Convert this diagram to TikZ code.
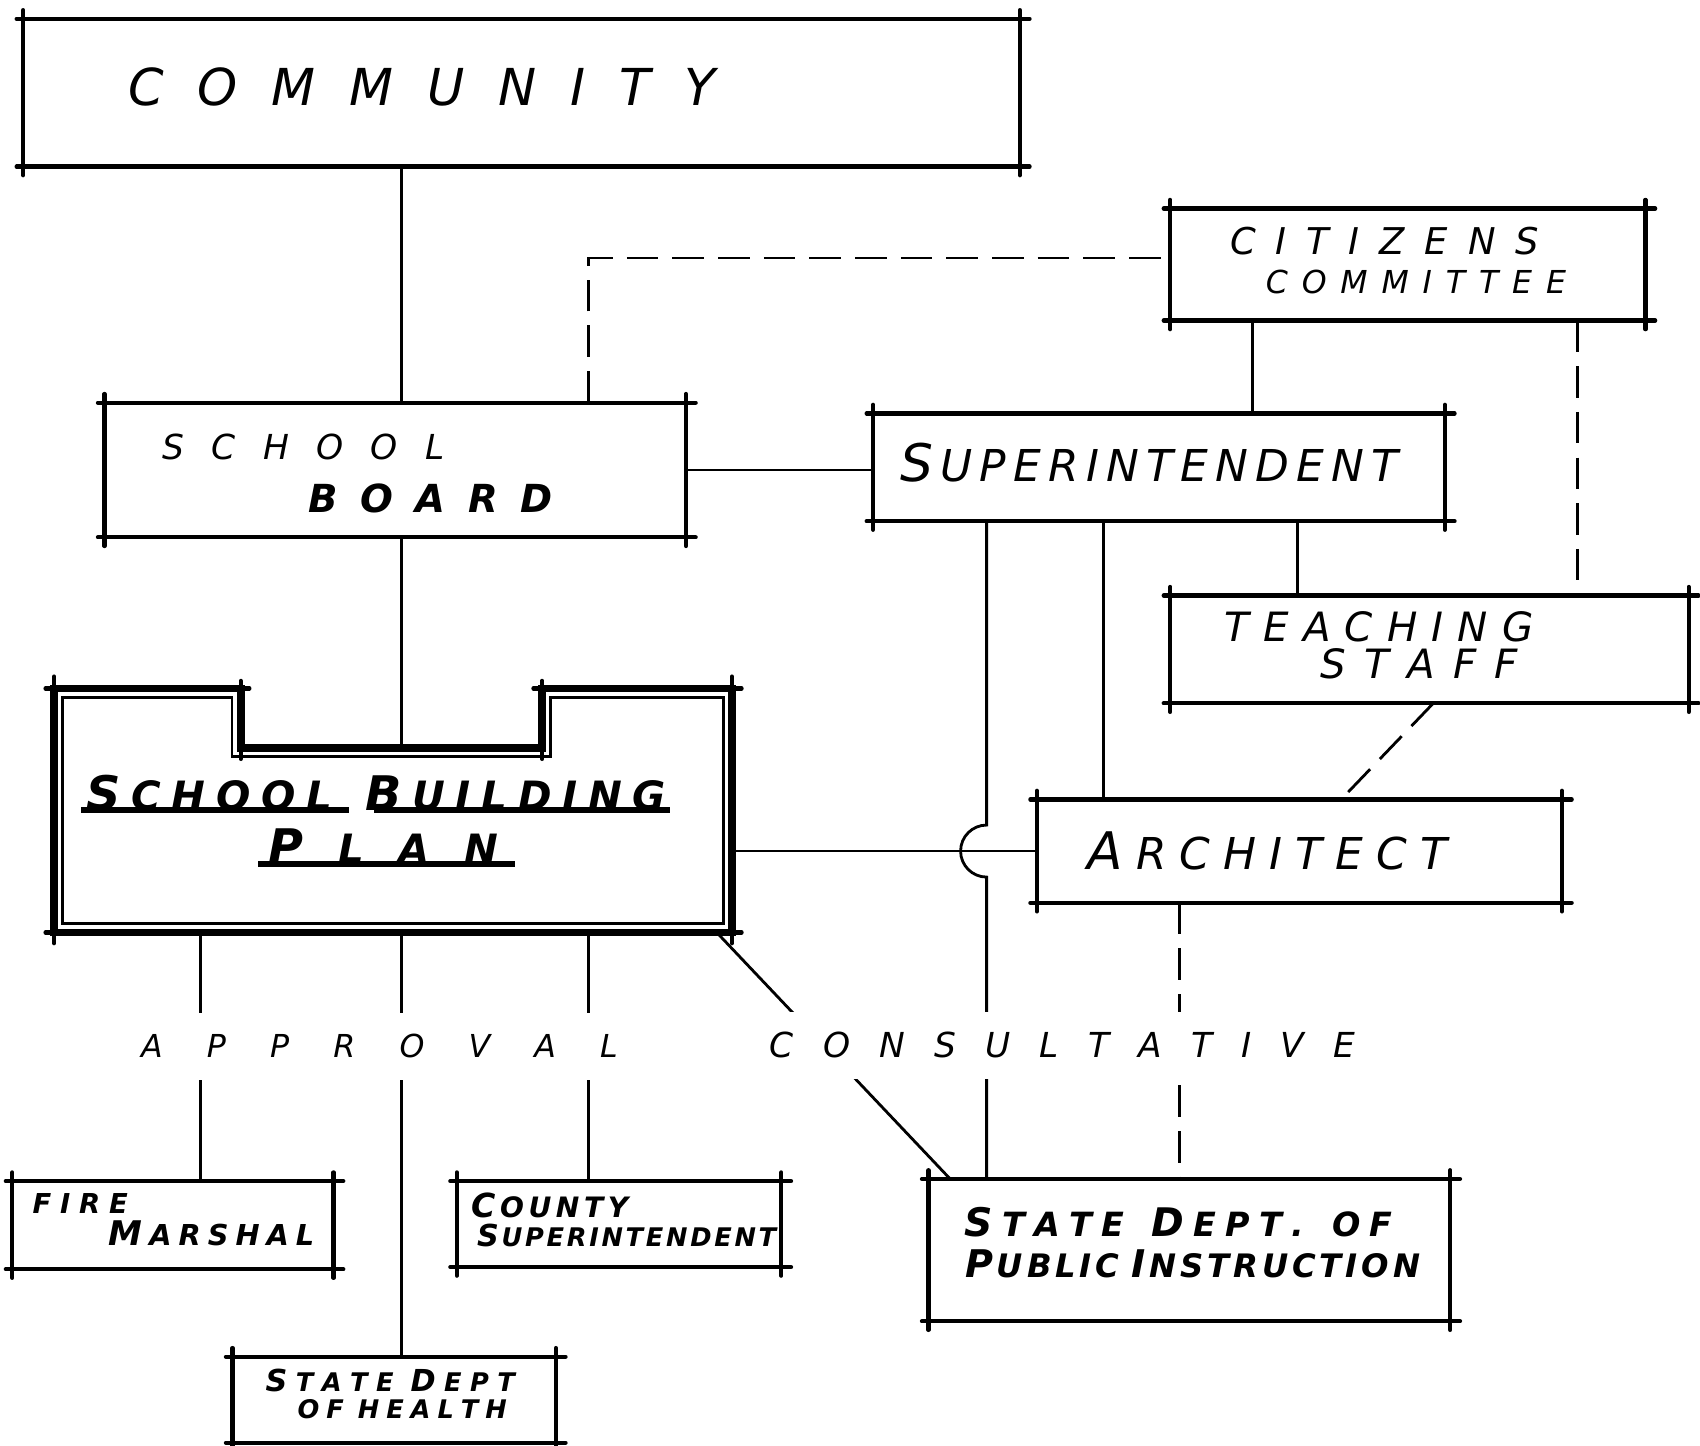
\documentclass[tikz,border=0pt]{standalone}
\usepackage{fontspec}
\usepackage{graphicx}
\usetikzlibrary{fit}
\newfontfamily\hand{DejaVu Sans}
\newdimen\ppx \ppx=0.30848pt
\makeatletter
\def\sp@end{}
\def\sp@endm{\sp@end}
\def\sp@barm{|}
\newcommand\spl[1]{\sp@a#1\sp@end}
\def\sp@a#1{#1\sp@b}
\def\sp@b#1{\def\sp@t{#1}%
  \ifx\sp@t\sp@endm \let\sp@next\relax
  \else \ifx\sp@t\sp@barm\hfil\else\hfil#1\fi \let\sp@next\sp@b \fi
  \sp@next}
\makeatother
\newcommand\lbl[3]{\makebox[#1\ppx][s]{\fontsize{#2pt}{#2pt}\selectfont\spl{#3}}}
\newcommand\B[1]{\scalebox{1.18}{#1}}
\newcommand\drafted[1]{%
  \draw[boxline] ([xshift=-6\ppx]#1.north west) -- ([xshift=9\ppx]#1.north east);
  \draw[boxline] ([xshift=-6\ppx]#1.south west) -- ([xshift=9\ppx]#1.south east);
  \draw[boxline] ([yshift=8\ppx]#1.north west) -- ([yshift=-8\ppx]#1.south west);
  \draw[boxline] ([yshift=8\ppx]#1.north east) -- ([yshift=-8\ppx]#1.south east);}
\tikzset{
  boxline/.style={line width=1.2pt, line cap=round},
  conn/.style={line width=0.8pt},
  dashconn/.style={line width=0.8pt, dash pattern=on 9pt off 4pt},
  boxnode/.style={inner sep=0pt, draw=none, rectangle},
  txt/.style={inner sep=0pt, font=\hand\itshape},
  btxt/.style={inner sep=0pt, font=\hand\bfseries\itshape},
  mask/.style={fill=white, inner xsep=8\ppx, inner ysep=0pt, font=\hand\itshape},
}
\begin{document}
\begin{tikzpicture}[x=0.010842cm, y=-0.010842cm]
\useasboundingbox (0,0) rectangle (1568,1333);

% ---------- boxes ----------
\node[boxnode, fit={(22,18) (940,153)}] (comm) {};
\node[boxnode, fit={(97,372) (632,495)}] (sb) {};
\node[boxnode, fit={(1080,193) (1517,295)}] (cc) {};
\node[boxnode, fit={(806,382) (1332,480)}] (sup) {};
\node[boxnode, fit={(1080,550) (1557,648)}] (ts) {};
\node[boxnode, fit={(957,738) (1440,832)}] (arch) {};
\node[boxnode, fit={(12,1090) (307,1170)}] (fm) {};
\node[boxnode, fit={(422,1090) (720,1168)}] (cs) {};
\node[boxnode, fit={(215,1252) (512,1330)}] (sdh) {};
\node[boxnode, fit={(857,1088) (1337,1218)}] (sdpi) {};
\node[boxnode, fit={(50,635) (675,860)}] (sbp) {};
\coordinate (notch) at (370,690);

\drafted{comm}\drafted{sb}\drafted{cc}\drafted{sup}\drafted{ts}
\drafted{arch}\drafted{fm}\drafted{cs}\drafted{sdh}\drafted{sdpi}

% school building plan outline (double line with notch)
\draw[line width=2.2pt, line join=miter] (50,635) -- (222,635) -- (222,690) -- (500,690) -- (500,635) -- (675,635) -- (675,860) -- (50,860) -- cycle;
\draw[line width=0.8pt] (58,643) -- (214,643) -- (214,698) -- (508,698) -- (508,643) -- (667,643) -- (667,852) -- (58,852) -- cycle;
\draw[boxline] (50,624) -- (50,870) (42,860) -- (684,860) (675,624) -- (675,870)
  (42,635) -- (230,635) (492,635) -- (684,635) (222,628) -- (222,700) (500,628) -- (500,700);

% ---------- helper coordinates ----------
\coordinate (xa) at (370,0);
\coordinate (xb) at (543,0);
\coordinate (dk) at (543,238);
\coordinate (xc) at (1155,0);
\coordinate (xd) at (1455,0);
\coordinate (xe) at (1197,0);
\coordinate (xf) at (1018,0);
\coordinate (xg) at (910,0);
\coordinate (hopT) at (910,761);
\coordinate (xh) at (1322,0);
\coordinate (xi) at (1237,0);
\coordinate (xj) at (1088,0);
\coordinate (xk) at (185,0);

% ---------- connectors ----------
\draw[conn] (comm.south -| xa) -- (sb.north -| xa);
\draw[conn] (sb.south -| xa) -- (notch);
\draw[dashconn] (sb.north -| xb) -- (dk) -- (cc.west |- dk);
\draw[conn] (sb.east) -- (sup.west |- sb.east);
\draw[conn] (cc.south -| xc) -- (sup.north -| xc);
\draw[dashconn] (cc.south -| xd) -- (ts.north -| xd);
\draw[conn] (sup.south -| xe) -- (ts.north -| xe);
\draw[conn] (sup.south -| xf) -- (arch.north -| xf);
\draw[conn] (sup.south -| xg) -- (hopT) arc[start angle=90, end angle=270, radius=24\ppx] -- (sdpi.north -| xg);
\draw[conn] (sbp.east |- arch.west) -- (arch.west);
\draw[dashconn] (ts.south -| xh) -- (arch.north -| xi);
\draw[dashconn] (arch.south -| xj) -- (sdpi.north -| xj);
\draw[conn] (sbp.south -| xk) -- (fm.north -| xk);
\draw[conn] (sbp.south -| xa) -- (sdh.north -| xa);
\draw[conn] (sbp.south -| xb) -- (cs.north -| xb);
\draw[conn] ([xshift=-14\ppx]sbp.south east) -- ([xshift=20\ppx]sdpi.north west);

% ---------- labels ----------
\node[txt] (t-comm) at (389,80) {\lbl{542}{14.5}{COMMUNITY}};
\node[txt] (t-sb1) at (280,412) {\lbl{260}{9.8}{SCHOOL}};
\node[btxt] (t-sb2) at (397,460) {\lbl{225}{11}{BOARD}};
\node[txt] (t-cc1) at (1277,222) {\lbl{285}{10.5}{CITIZENS}};
\node[txt] (t-cc2) at (1306,260) {\lbl{277}{9}{COMMITTEE}};
\node[txt] (t-sup) at (1060,427) {\lbl{460}{12.5}{{\B{S}}UPERINTENDENT}};
\node[txt] (t-ts1) at (1272,578) {\lbl{285}{11.5}{TEACHING}};
\node[txt] (t-ts2) at (1309,612) {\lbl{182}{11.5}{STAFF}};
\node[txt] (t-arch) at (1169,785) {\lbl{332}{12.5}{{\B{A}}RCHITECT}};
\node[btxt] (t-sbp1) at (347,732) {\lbl{535}{11.5}{{\B{S}}CHOOL||{\B{B}}UILDING}};
\node[btxt] (t-sbp2) at (354,780) {\lbl{212}{11.5}{{\B{P}}LAN}};
\draw[line width=1.6pt] (75,747) -- (322,747) (345,747) -- (618,747) (238,797) -- (475,797);
\node[btxt] (t-fm1) at (74,1110) {\lbl{88}{7.8}{FIRE}};
\node[btxt] (t-fm2) at (195,1138) {\lbl{190}{8.2}{{\B{M}}ARSHAL}};
\node[btxt] (t-cs1) at (507,1112) {\lbl{145}{8}{{\B{C}}OUNTY}};
\node[btxt] (t-cs2) at (578,1140) {\lbl{276}{7.3}{{\B{S}}UPERINTENDENT}};
\node[btxt] (t-sdh1) at (360,1273) {\lbl{230}{7.3}{{\B{S}}TATE|{\B{D}}EPT}};
\node[btxt] (t-sdh2) at (371,1300) {\lbl{193}{7.3}{OF|HEALTH}};
\node[btxt] (t-sd1) at (1087,1127) {\lbl{395}{9.5}{{\B{S}}TATE||{\B{D}}EPT.||OF}};
\node[btxt] (t-sd2) at (1100,1166) {\lbl{420}{9.2}{{\B{P}}UBLIC||{\B{I}}NSTRUCTION}};

% ---------- connector group labels (mask the lines they cross) ----------
\node[mask, minimum height=62\ppx] (t-appr) at (350,965) {\lbl{440}{9}{APPROVAL}};
\node[mask, minimum height=62\ppx] (t-cons) at (980,964) {\lbl{540}{9.8}{CONSULTATIVE}};
\end{tikzpicture}
\end{document}
